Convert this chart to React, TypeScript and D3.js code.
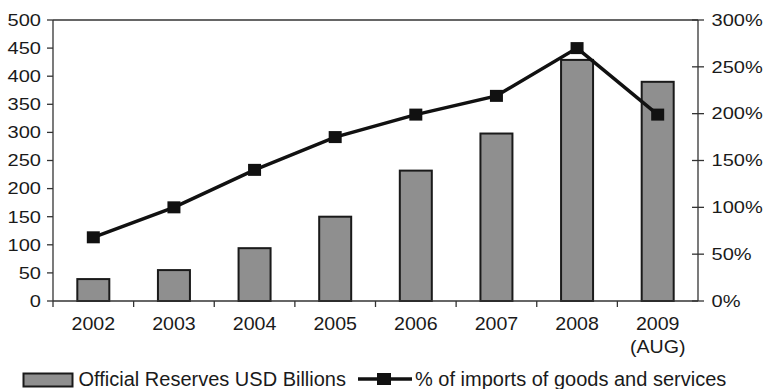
import React from "react";
import * as d3 from "d3";

const years = ["2002", "2003", "2004", "2005", "2006", "2007", "2008", "2009"];
const yearSub = ["", "", "", "", "", "", "", "(AUG)"];
const reserves = [39, 55, 94, 150, 232, 298, 429, 390];
const pctImports = [68, 100, 140, 175, 199, 219, 270, 199];
const leftTicks = [0, 50, 100, 150, 200, 250, 300, 350, 400, 450, 500];
const rightTicks = [0, 50, 100, 150, 200, 250, 300];
const legendBar = "Official Reserves USD Billions";
const legendLine = "% of imports of goods and services";

const W = 764;
const H = 389;
const left = 53;
const right = 698;
const top = 20;
const bottom = 301;
const font = "'Liberation Sans', Arial, Helvetica, sans-serif";
const textColor = "#1a1a1a";
const axisColor = "#333";

export default function App() {
  const x = d3.scaleBand<string>().domain(years).range([left, right]).padding(0);
  const yL = d3.scaleLinear().domain([0, 500]).range([bottom, top]);
  const yR = d3.scaleLinear().domain([0, 300]).range([bottom, top]);
  const barW = 32;
  const cx = (y: string) => (x(y) as number) + x.bandwidth() / 2;

  const line = d3
    .line<number>()
    .x((_, i) => cx(years[i]))
    .y((d) => yR(d));

  return (
    <svg
      width={W}
      height={H}
      style={{ position: "absolute", left: 0, top: 0, background: "#fff" }}
    >
      <rect x={0} y={0} width={W} height={H} fill="#fff" />
      {/* bars */}
      {reserves.map((v, i) => (
        <rect
          key={years[i]}
          x={cx(years[i]) - barW / 2}
          y={yL(v)}
          width={barW}
          height={bottom - yL(v)}
          fill="#8f8f8f"
          stroke="#1a1a1a"
          strokeWidth={2}
        />
      ))}
      {/* plot frame top */}
      <line x1={left} x2={right} y1={top} y2={top} stroke={axisColor} strokeWidth={1.3} />
      {/* left axis */}
      <line x1={left} x2={left} y1={top} y2={bottom} stroke={axisColor} strokeWidth={1.3} />
      {leftTicks.map((t) => (
        <g key={"l" + t}>
          <line x1={left - 6} x2={left} y1={yL(t)} y2={yL(t)} stroke={axisColor} strokeWidth={1.3} />
          <text
            transform={`translate(${41},${yL(t) + 5.8}) scale(1.23,1)`}
            textAnchor="end"
            fontFamily={font}
            fontSize={16.3}
            fill={textColor}
          >
            {t}
          </text>
        </g>
      ))}
      {/* right axis */}
      <line x1={right} x2={right} y1={top} y2={bottom} stroke={axisColor} strokeWidth={1.3} />
      {rightTicks.map((t) => (
        <g key={"r" + t}>
          <line x1={right - 6} x2={right + 6} y1={yR(t)} y2={yR(t)} stroke={axisColor} strokeWidth={1.3} />
          <text
            transform={`translate(${711.5},${yR(t) + 5.8}) scale(1.23,1)`}
            textAnchor="start"
            fontFamily={font}
            fontSize={16.3}
            fill={textColor}
          >
            {t + "%"}
          </text>
        </g>
      ))}
      {/* bottom axis */}
      <line x1={left} x2={right} y1={bottom} y2={bottom} stroke={axisColor} strokeWidth={1.3} />
      {years.map((yr, i) => (
        <g key={"b" + yr}>
          <line
            x1={x(yr) as number}
            x2={x(yr) as number}
            y1={bottom}
            y2={bottom + 6}
            stroke={axisColor}
            strokeWidth={1.3}
          />
          <text
            transform={`translate(${cx(yr)},${329.5}) scale(1.06,1)`}
            textAnchor="middle"
            fontFamily={font}
            fontSize={18.5}
            fill={textColor}
          >
            {yr}
          </text>
          {yearSub[i] && (
            <text
              transform={`translate(${cx(yr)},${352.5}) scale(1.06,1)`}
              textAnchor="middle"
              fontFamily={font}
              fontSize={18.5}
              fill={textColor}
            >
              {yearSub[i]}
            </text>
          )}
        </g>
      ))}
      {/* line series */}
      <path d={line(pctImports) || ""} fill="none" stroke="#111" strokeWidth={3.5} strokeLinejoin="miter" />
      {pctImports.map((v, i) => (
        <rect key={"m" + i} x={cx(years[i]) - 6.5} y={yR(v) - 6} width={13} height={12} fill="#111" />
      ))}
      {/* legend */}
      <rect x={23.5} y={373.5} width={49} height={13} fill="#8f8f8f" stroke="#1a1a1a" strokeWidth={2} />
      <text x={78.5} y={385.5} fontFamily={font} fontSize={20} fill={textColor}>
        {legendBar}
      </text>
      <line x1={358} x2={412} y1={379} y2={379} stroke="#111" strokeWidth={3.5} />
      <rect x={377} y={373} width={14} height={12} fill="#111" />
      <text x={415} y={385.5} fontFamily={font} fontSize={20} fill={textColor}>
        {legendLine}
      </text>
    </svg>
  );
}
